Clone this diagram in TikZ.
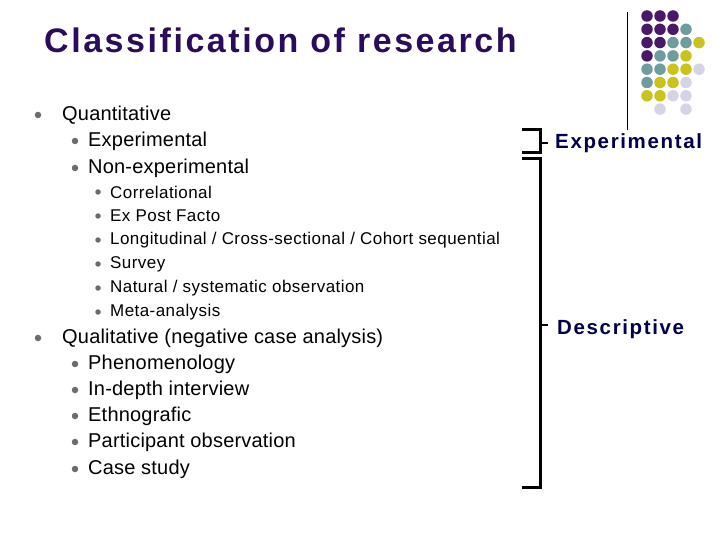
\documentclass[tikz,border=0pt]{standalone}
\usepackage{fontspec}
\setmainfont{Liberation Sans}
\begin{document}
\begin{tikzpicture}[x=1pt,y=-1pt,
  tA/.style={anchor=west,inner sep=0pt,font=\fontsize{20}{22}\selectfont\addfontfeature{LetterSpace=1}},
  tB/.style={anchor=west,inner sep=0pt,font=\fontsize{17}{18}\selectfont\addfontfeature{LetterSpace=2.6}},
  bul/.style={circle,fill=gray!85!black,inner sep=0pt,minimum size=6.5pt},
  bulS/.style={circle,fill=gray!85!black,inner sep=0pt,minimum size=5.5pt},
  lab/.style={anchor=west,inner sep=0pt,text=blue!30!black,font=\bfseries\fontsize{20.5}{22}\selectfont\addfontfeature{LetterSpace=8}},
  br/.style={line width=3pt},
  tick/.style={line width=1.5pt},
  dot/.style={circle,inner sep=0pt,minimum size=11.5pt}]
\useasboundingbox (0,0) rectangle (720,540);
\definecolor{cP}{HTML}{4A1868}
\definecolor{cT}{HTML}{6F9C9C}
\definecolor{cY}{HTML}{C9C31C}
\definecolor{cL}{HTML}{D4D4E6}
\definecolor{ttl}{HTML}{2A0C5C}
\node[anchor=west,inner sep=0pt,text=ttl,font=\bfseries\fontsize{34}{38}\selectfont\addfontfeature{LetterSpace=7.5}] (title) at (44,40) {Classification of research};
% dots
\draw[line width=1pt] (627,12) coordinate (v1) -- (627,130) coordinate (v2);
\foreach \r/\row in {0/{P,P,P,N,N},1/{P,P,P,T,N},2/{P,P,T,T,Y},3/{P,T,T,Y,N},4/{T,T,Y,Y,L},5/{T,Y,Y,L,N},6/{Y,Y,L,L,N},7/{N,L,N,L,N}}{
  \foreach \c [count=\i from 0] in \row {
    \if\c N\else
      \node[dot,fill=c\c] (d\r\i) at ({647+13*\i},{16+13.3*\r}) {};
    \fi
  }
}
% level 1
\foreach \y/\t [count=\k] in {115/Quantitative,338/{Qualitative (negative case analysis)}}{
  \node[bul] (b1\k) at (38,\y) {};
  \node[tA] (t1\k) at (62,\y) {\t};
}
\foreach \y/\t [count=\k] in {141/Experimental,168/Non-experimental,364/Phenomenology,390/In-depth interview,416/Ethnografic,442/Participant observation,469/Case study}{
  \node[bul] (b2\k) at (75,\y) {};
  \node[tA] (t2\k) at (88,\y) {\t};
}
\foreach \y/\t [count=\k] in {192/{Correlational},216/{Ex Post Facto},240/{Longitudinal / Cross-sectional / Cohort sequential},264/{Survey},288/{Natural / systematic observation},312/{Meta-analysis}}{
  \node[bulS] (b3\k) at (98,\y) {};
  \node[tB] (t3\k) at (110,\y) {\t};
}
% brackets
\coordinate (a1) at (522,130); \coordinate (a2) at (540,130);
\coordinate (a3) at (540,153); \coordinate (a4) at (522,153);
\draw[br] (a1) -- (a2) -- (a3) -- (a4);
\coordinate (c1) at (522,159); \coordinate (c2) at (540,159);
\coordinate (c3) at (540,487); \coordinate (c4) at (522,487);
\draw[br] (c1) -- (c2) -- (c3) -- (c4);
\node[lab] (e) at (555,143) {Experimental};
\node[lab] (d) at (557,329) {Descriptive};
\coordinate (te) at (540,143); \coordinate (td) at (540,325);
\draw[tick] (te) -- ++(8,0);
\draw[tick] (td) -- ++(8,0);
\end{tikzpicture}
\end{document}
